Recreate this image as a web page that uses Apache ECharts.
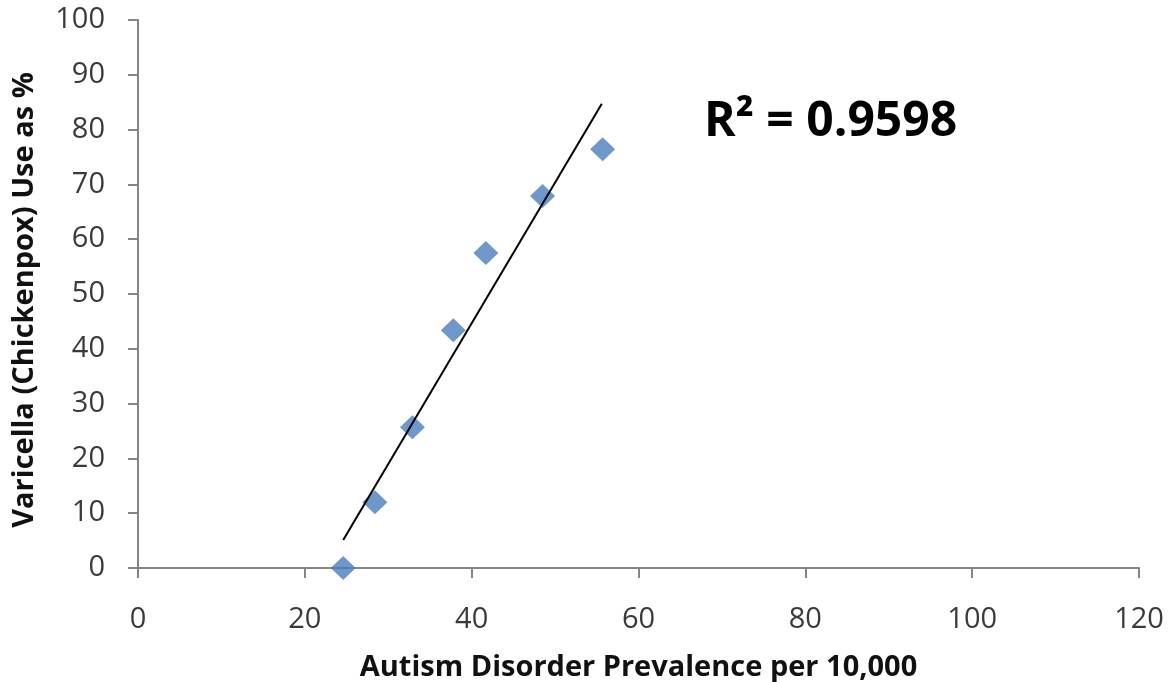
<!DOCTYPE html>
<html>
<head>
<meta charset="utf-8">
<script src="https://cdn.jsdelivr.net/npm/echarts@6/dist/echarts.min.js"></script>
<style>
html,body{margin:0;padding:0;background:#fff;}
#chart{width:1168px;height:682px;}
</style>
</head>
<body>
<div id="chart"></div>
<script>
// Data
const prevalence = [24.6, 28.4, 32.9, 37.8, 41.7, 48.5, 55.7];   // Autism per 10,000
const varicellaUse = [0, 12, 25.7, 43.4, 57.5, 67.9, 76.4];       // Varicella use %
const trendX = [24.6, 55.6];
const trendY = [5.1, 84.7];
const rSquaredLabel = 'R\u00B2 = 0.9598';
const xTitle = 'Autism Disorder Prevalence per 10,000';
const yTitle = 'Varicella (Chickenpox) Use as %';

const points = prevalence.map((x, i) => [x, varicellaUse[i]]);
const trend = trendX.map((x, i) => [x, trendY[i]]);

const font = 'Open Sans';
const chart = echarts.init(document.getElementById('chart'));
chart.setOption({
  animation: false,
  backgroundColor: '#ffffff',
  grid: { left: 138, right: 29, top: 20, bottom: 114, containLabel: false, outerBoundsMode: 'none' },
  title: {
    text: rSquaredLabel,
    left: 699, top: 93,
    textStyle: { fontFamily: font, fontWeight: 'bold', fontSize: 48, color: '#000' }
  },
  xAxis: {
    type: 'value', min: 0, max: 120, interval: 20,
    name: xTitle, nameLocation: 'middle', nameGap: 85,
    nameTextStyle: { fontFamily: font, fontWeight: 'bold', fontSize: 29, color: '#111' },
    axisLine: { show: true, onZero: false, lineStyle: { color: '#868686', width: 2 } },
    axisTick: { show: true, inside: false, length: 10, lineStyle: { color: '#868686', width: 2 } },
    axisLabel: { fontFamily: font, fontSize: 29, color: '#3a3a3a', margin: 37 },
    splitLine: { show: false }
  },
  yAxis: {
    type: 'value', min: 0, max: 100, interval: 10,
    name: yTitle, nameLocation: 'middle', nameGap: 99, nameRotate: 90,
    nameTextStyle: { fontFamily: font, fontWeight: 'bold', fontSize: 29, color: '#111', padding: [0, 12, 0, 0] },
    axisLine: { show: true, lineStyle: { color: '#868686', width: 2 } },
    axisTick: { show: true, inside: false, length: 10, lineStyle: { color: '#868686', width: 2 } },
    axisLabel: { fontFamily: font, fontSize: 29, color: '#3a3a3a', margin: 33 },
    splitLine: { show: false }
  },
  series: [
    {
      type: 'line',
      data: trend,
      symbol: 'none',
      lineStyle: { color: '#000', width: 2 },
      z: 3
    },
    {
      type: 'scatter',
      data: points,
      symbol: 'diamond',
      symbolSize: [25, 24],
      itemStyle: { color: '#4a7ebb' },
      z: 2
    }
  ]
});
</script>
</body>
</html>
